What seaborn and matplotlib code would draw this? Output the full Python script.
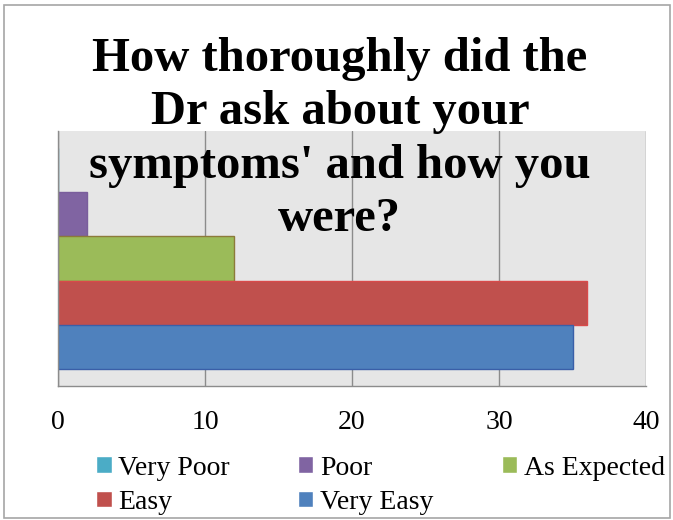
import pandas as pd
import matplotlib.pyplot as plt
import seaborn as sns
from matplotlib.patches import Rectangle

TITLE = "How thoroughly did the\nDr ask about your\nsymptoms' and how you\nwere?"

ratings = ["Very Poor", "Poor", "As Expected", "Easy", "Very Easy"]
counts = [0, 2, 12, 36, 35]
colors = ["#4BACC6", "#8064A2", "#9BBB59", "#C0504D", "#4F81BD"]
edges = ["#46AAC4", "#7A5E9C", "#8C7A3A", "#D84A4A", "#3A5FA8"]
x_ticks = [0, 10, 20, 30, 40]

df = pd.DataFrame({"question": ["q"] * len(ratings), "rating": ratings, "count": counts})

sns.set_theme(style="white")
plt.rcParams["font.family"] = ["Liberation Serif", "DejaVu Serif"]
plt.rcParams["text.color"] = "black"

fig = plt.figure(figsize=(6.73, 5.2), dpi=100)
ax = fig.add_axes([0.0862, 0.2577, 0.8737, 0.4904])

sns.barplot(data=df, x="count", y="question", hue="rating", hue_order=ratings,
            palette=colors, orient="h", width=0.87, ax=ax, saturation=1)

for bar, ec in zip(ax.patches, edges):
    bar.set_edgecolor(ec)
    bar.set_linewidth(1.0)

ax.set_facecolor("#E6E6E6")
ax.set_xlim(0, 40)
ax.set_xticks(x_ticks)
ax.set_yticks([])
ax.set_xlabel("")
ax.set_ylabel("")
ax.grid(axis="x", color="#8C8C8C", linewidth=1.0)
ax.set_axisbelow(True)
ax.tick_params(axis="x", length=0, pad=17, labelsize=20, labelcolor="black")
for side in ["top", "right"]:
    ax.spines[side].set_visible(False)
for side in ["left", "bottom"]:
    ax.spines[side].set_color("#8C8C8C")
    ax.spines[side].set_linewidth(1.0)

handles, labels = ax.get_legend_handles_labels()
ax.get_legend().remove()
order = [0, 3, 1, 4, 2]
fig.legend([handles[i] for i in order], [labels[i] for i in order],
           ncol=3, loc="center left", bbox_to_anchor=(0.143, 0.067),
           frameon=False, fontsize=20, labelcolor="black",
           handlelength=0.55, handleheight=0.55,
           handletextpad=0.25, columnspacing=2.45, labelspacing=0.33,
           borderpad=0, borderaxespad=0)

fig.text(0.505, 0.733, TITLE, ha="center", va="center", fontsize=35,
         fontweight="bold", linespacing=1.28, color="black", zorder=5)

fig.patches.append(Rectangle((0.006, 0.004), 0.99, 0.987, transform=fig.transFigure,
                             fill=False, edgecolor="#A6A6A6", linewidth=1.2))

fig.savefig("out.png", dpi=100)
